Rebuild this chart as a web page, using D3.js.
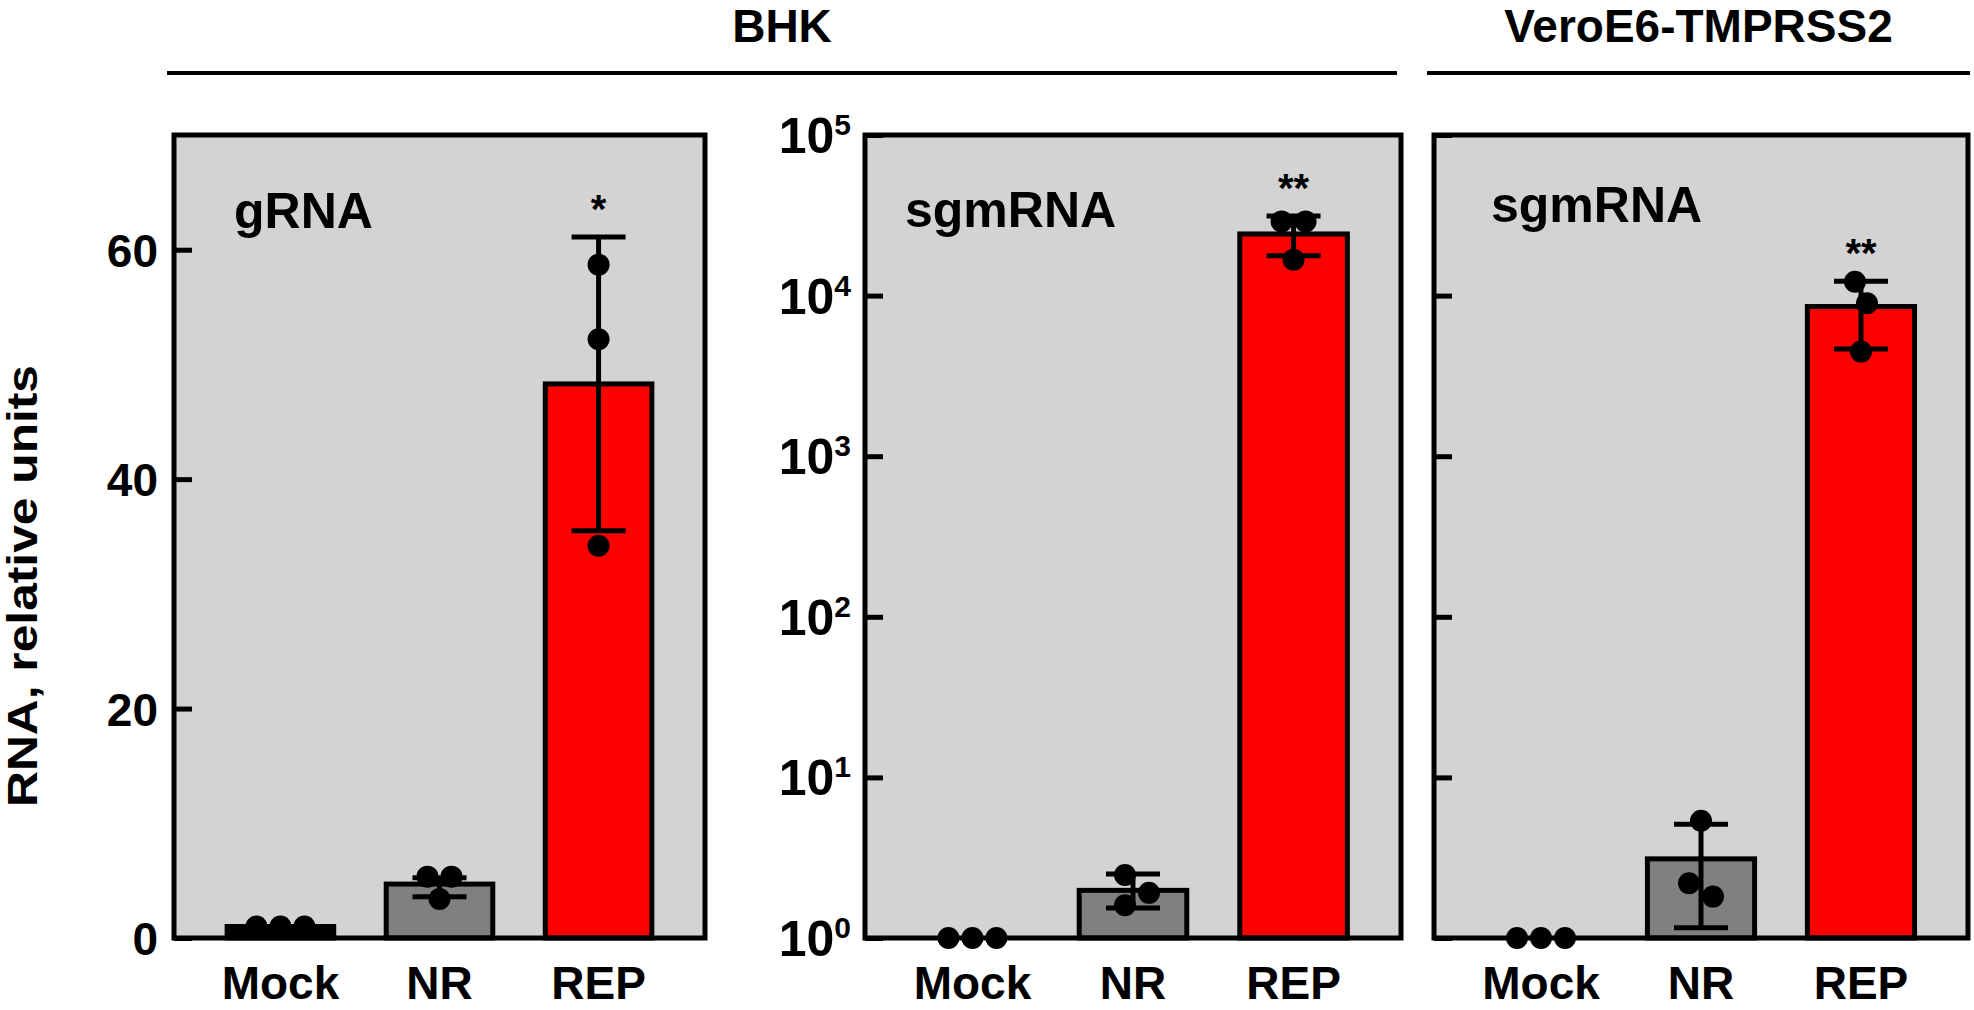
<!DOCTYPE html>
<html>
<head>
<meta charset="utf-8">
<script src="https://cdn.jsdelivr.net/npm/d3@7"></script>
<style>
  body { margin: 0; background: #fff; }
  svg { display: block; font-family: "Liberation Sans", Arial, sans-serif; font-weight: bold; }
</style>
</head>
<body>
<div class="chart"></div>
<script>
// ---- data ----
const categories = ["Mock", "NR", "REP"];
const groupTitles = ["BHK", "VeroE6-TMPRSS2"];
const panelLabels = ["gRNA", "sgmRNA", "sgmRNA"];
const yTitle = "RNA, relative units";
const linTicks = [0, 20, 40, 60];
const logTicks = [1, 10, 100, 1000, 10000, 100000];

// BHK gRNA (linear)
const bhkG_mean = [1.0, 4.7, 48.3];
const bhkG_lo = [1.0, 3.6, 35.5];
const bhkG_hi = [1.0, 5.25, 61.1];
const bhkG_pts = [[1.0, 1.0, 1.0], [5.35, 5.35, 3.4], [58.7, 52.2, 34.2]];
const bhkG_star = ["", "", "*"];

// BHK sgmRNA (log)
const bhkS_mean = [1, 1.98, 24200];
const bhkS_lo = [1, 1.54, 17700];
const bhkS_hi = [1, 2.5, 31300];
const bhkS_pts = [[1, 1, 1], [2.47, 1.91, 1.6], [28900, 28900, 16700]];
const bhkS_star = ["", "", "**"];

// VeroE6-TMPRSS2 sgmRNA (log)
const vero_mean = [1, 3.11, 8550];
const vero_lo = [1, 1.16, 4650];
const vero_hi = [1, 5.1, 12300];
const vero_pts = [[1, 1, 1], [5.37, 2.19, 1.81], [12200, 8950, 4480]];
const vero_star = ["", "", "**"];

const barColors = ["#000000", "#808080", "#ff0000"];

// ---- layout ----
const W = 1974, H = 1010;
const plotTop = 135, plotBottom = 938;
const R = 11;

const svg = d3.select(".chart").append("svg")
  .attr("width", W).attr("height", H);

const panels = [
  { x0: 174, x1: 705, log: false, label: panelLabels[0], lx: 60, ly: 228,
    mean: bhkG_mean, lo: bhkG_lo, hi: bhkG_hi, pts: bhkG_pts, star: bhkG_star, tickLabels: true },
  { x0: 865, x1: 1401, log: true, label: panelLabels[1], lx: 40, ly: 227,
    mean: bhkS_mean, lo: bhkS_lo, hi: bhkS_hi, pts: bhkS_pts, star: bhkS_star, tickLabels: true },
  { x0: 1434, x1: 1968, log: true, label: panelLabels[2], lx: 57, ly: 222,
    mean: vero_mean, lo: vero_lo, hi: vero_hi, pts: vero_pts, star: vero_star, tickLabels: false }
];

// spread overlapping dots sideways (simple beeswarm)
function dodge(vals, y) {
  const D = 2 * R + 0.5, h = R + 1;
  const idx = d3.range(vals.length).sort((a, b) => y(vals[a]) - y(vals[b]));
  const off = new Array(vals.length).fill(0);
  let groups = [], cur = [];
  idx.forEach((i, k) => {
    if (k > 0 && y(vals[i]) - y(vals[idx[k - 1]]) >= D) { groups.push(cur); cur = []; }
    cur.push(i);
  });
  groups.push(cur);
  groups.forEach(g => {
    const placed = [];
    g.forEach(i => {
      const cands = [0, h, -h, 2 * h, -2 * h, 3 * h, -3 * h];
      let x = cands.find(c => placed.every(p => Math.hypot(c - p.x, y(vals[i]) - p.y) >= D));
      if (x === undefined) x = 0;
      placed.push({ x: x, y: y(vals[i]) });
      off[i] = x;
    });
    const m = d3.mean(g, i => off[i]);
    g.forEach(i => { off[i] -= m; });
  });
  return off;
}

panels.forEach(p => {
  const g = svg.append("g");

  const x = d3.scaleBand()
    .domain(categories)
    .range([p.x0, p.x1])
    .paddingInner(0.33)
    .paddingOuter(0.334);

  const y = p.log
    ? d3.scaleLog().domain([1, 1e5]).range([plotBottom, plotTop])
    : d3.scaleLinear().domain([0, 70]).range([plotBottom, plotTop]);

  // background
  g.append("rect")
    .attr("x", p.x0).attr("y", plotTop)
    .attr("width", p.x1 - p.x0).attr("height", plotBottom - plotTop)
    .attr("fill", "#d3d3d3");

  // bars
  g.selectAll(".bar")
    .data(categories)
    .join("rect")
    .attr("class", "bar")
    .attr("x", d => x(d))
    .attr("width", x.bandwidth())
    .attr("y", (d, i) => y(p.mean[i]))
    .attr("height", (d, i) => plotBottom - y(p.mean[i]))
    .attr("fill", (d, i) => barColors[i])
    .attr("stroke", "#000")
    .attr("stroke-width", 5);

  // error bars (mean +/- SD)
  categories.forEach((c, i) => {
    if (p.lo[i] === p.hi[i]) return;
    const cx = x(c) + x.bandwidth() / 2;
    const eg = g.append("g").attr("stroke", "#000").attr("stroke-width", 5);
    eg.append("line").attr("x1", cx).attr("x2", cx)
      .attr("y1", y(p.lo[i])).attr("y2", y(p.hi[i]));
    [p.lo[i], p.hi[i]].forEach(v => {
      eg.append("line").attr("x1", cx - 27).attr("x2", cx + 27)
        .attr("y1", y(v)).attr("y2", y(v));
    });
  });

  // individual points
  categories.forEach((c, i) => {
    const cx = x(c) + x.bandwidth() / 2;
    const off = dodge(p.pts[i], y);
    g.selectAll(".pt-" + c)
      .data(p.pts[i])
      .join("circle")
      .attr("class", "pt-" + c)
      .attr("cx", (d, k) => cx + off[k])
      .attr("cy", d => y(d))
      .attr("r", R)
      .attr("fill", "#000");
  });

  // significance stars
  g.selectAll(".star")
    .data(categories)
    .join("text")
    .attr("class", "star")
    .attr("x", d => x(d) + x.bandwidth() / 2)
    .attr("y", (d, i) => y(p.hi[i]) - 14)
    .attr("text-anchor", "middle")
    .attr("font-size", 40)
    .text((d, i) => p.star[i]);

  // frame
  g.append("rect")
    .attr("x", p.x0).attr("y", plotTop)
    .attr("width", p.x1 - p.x0).attr("height", plotBottom - plotTop)
    .attr("fill", "none")
    .attr("stroke", "#000")
    .attr("stroke-width", 5);

  // y axis, ticks pointing inward
  const yAxis = d3.axisLeft(y)
    .tickValues(p.log ? logTicks : linTicks)
    .tickSizeInner(-18)
    .tickSizeOuter(0)
    .tickPadding(p.log ? 14 : 16)
    .tickFormat(d => p.log ? "" : d);
  const ya = g.append("g")
    .attr("transform", "translate(" + p.x0 + ",0)")
    .call(yAxis);
  ya.select(".domain").remove();
  ya.selectAll(".tick line").attr("stroke", "#000").attr("stroke-width", 5);
  ya.selectAll(".tick text")
    .attr("fill", "#000")
    .attr("font-family", "Liberation Sans, Arial, sans-serif")
    .attr("font-size", 46)
    .attr("dy", "0.36em");

  if (p.log && p.tickLabels) {
    ya.selectAll(".tick text").each(function (d) {
      const t = d3.select(this).attr("font-size", 50).attr("dy", "0.35em");
      t.append("tspan").text("10");
      t.append("tspan").attr("font-size", 30).attr("dy", -18).text(Math.round(Math.log10(d)));
    });
  }

  // x axis category labels
  const xa = g.append("g")
    .attr("transform", "translate(0," + plotBottom + ")")
    .call(d3.axisBottom(x).tickSize(0).tickPadding(28));
  xa.select(".domain").remove();
  xa.selectAll(".tick text")
    .attr("fill", "#000")
    .attr("font-family", "Liberation Sans, Arial, sans-serif")
    .attr("font-size", 46);

  // panel label
  g.append("text")
    .attr("x", p.x0 + p.lx)
    .attr("y", p.ly)
    .attr("font-size", 50)
    .text(p.label);
});

// group headers
const headers = [
  { text: groupTitles[0], xa: panels[0].x0 - 7, xb: panels[1].x1 - 4 },
  { text: groupTitles[1], xa: panels[2].x0 - 7, xb: W - 4 }
];
headers.forEach(hd => {
  svg.append("line")
    .attr("x1", hd.xa).attr("x2", hd.xb)
    .attr("y1", 73).attr("y2", 73)
    .attr("stroke", "#000").attr("stroke-width", 4);
  svg.append("text")
    .attr("x", (hd.xa + hd.xb) / 2)
    .attr("y", 42)
    .attr("text-anchor", "middle")
    .attr("font-size", 46)
    .text(hd.text);
});

// y axis title
svg.append("text")
  .attr("transform", "translate(37,586) rotate(-90)")
  .attr("text-anchor", "middle")
  .attr("font-size", 42)
  .attr("textLength", 442)
  .attr("lengthAdjust", "spacingAndGlyphs")
  .text(yTitle);
</script>
</body>
</html>
